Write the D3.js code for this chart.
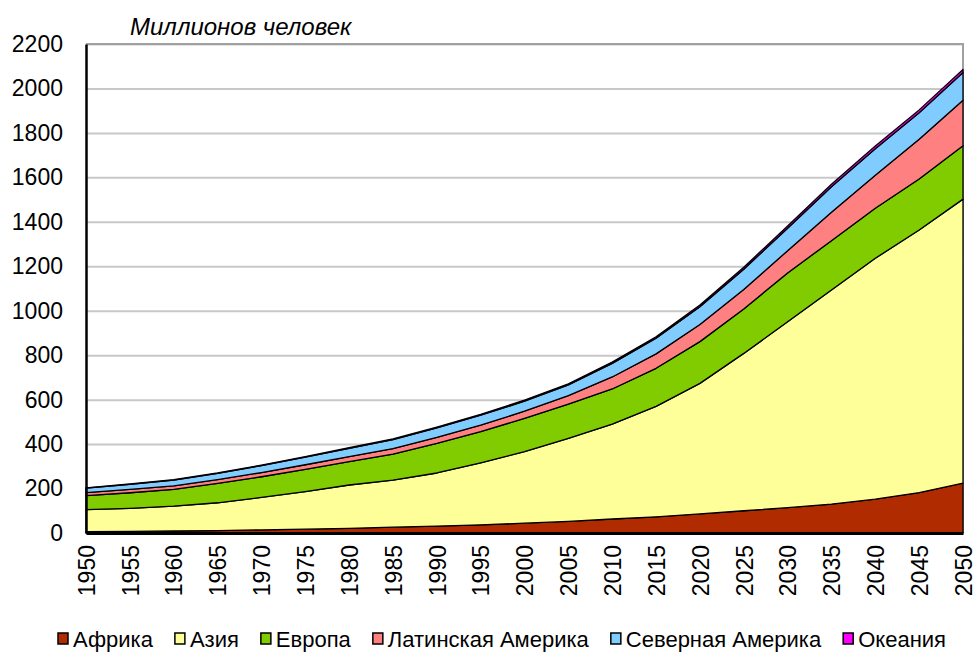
<!DOCTYPE html>
<html>
<head>
<meta charset="utf-8">
<script src="https://cdn.jsdelivr.net/npm/d3@7"></script>
<style>
  body { margin: 0; background: #fff; }
  svg { display: block; font-family: "Liberation Sans", Arial, sans-serif; }
</style>
</head>
<body>
<svg id="chart" width="975" height="653"></svg>
<script>
// years on the category axis
const years = d3.range(1950, 2051, 5);

// millions of people
const africa  = [6, 7, 9, 11, 14, 17, 21, 26, 31, 37, 44, 52, 63, 73, 86, 100, 114, 130, 152, 182, 224];
const asia    = [99, 104, 112, 125, 146, 169, 195, 212, 239, 279, 322, 374, 427, 497, 587, 708, 836, 963, 1084, 1181, 1278];
const europe  = [63, 70, 75, 87, 93, 100, 105, 117, 133, 140, 150, 154, 158, 171, 188, 200, 220, 222, 225, 230, 240];
const latin   = [14, 15, 16, 17, 19, 21, 23, 25, 27, 29, 32, 38, 54, 65, 77, 88, 100, 128, 148, 178, 205];
const northAm = [20, 23, 26, 28, 31, 34, 37, 40, 43, 45, 45, 48, 61, 70, 80, 91, 101, 115, 120, 120, 125];
const oceania = [1.4, 1.6, 1.8, 2.0, 2.3, 2.6, 3.0, 3.4, 3.8, 4.2, 4.6, 5.1, 5.9, 6.8, 7.8, 8.9, 10, 11, 11.9, 12.6, 13.3];

const seriesNames = ['Африка', 'Азия', 'Европа', 'Латинская Америка', 'Северная Америка', 'Океания'];
const seriesValues = [africa, asia, europe, latin, northAm, oceania];
const seriesColors = ['#b02c00', '#ffff99', '#80cc00', '#ff8080', '#80ccff', '#ff00ff'];

const yTicks = d3.range(0, 2201, 200);
const title = 'Миллионов человек';

const svg = d3.select('#chart');
const margin = { left: 86, right: 12, top: 44, bottom: 120 };
const width = 975, height = 653;

const x = d3.scaleLinear().domain([1950, 2050]).range([margin.left, width - margin.right]);
const y = d3.scaleLinear().domain([0, 2200]).range([height - margin.bottom, margin.top]);

// table for the stack
const table = years.map((yr, i) => {
  const row = { year: yr };
  seriesNames.forEach((name, k) => (row[name] = seriesValues[k][i]));
  return row;
});
const stacked = d3.stack().keys(seriesNames)(table);

// grid lines
svg.append('g')
  .attr('transform', `translate(${margin.left},0)`)
  .call(d3.axisLeft(y).tickValues(yTicks.slice(1)).tickSize(-(x.range()[1] - margin.left)).tickFormat(''))
  .call((g) => g.select('.domain').remove())
  .call((g) => g.selectAll('line').attr('stroke', '#c8c8c8').attr('stroke-width', 2));

// right + top frame
svg.append('path')
  .attr('d', `M${margin.left},${y(2200)}H${x(2050)}V${y(0)}`)
  .attr('fill', 'none')
  .attr('stroke', '#a0a0a0')
  .attr('stroke-width', 2);

const area = d3.area()
  .x((d) => x(d.data.year))
  .y0((d) => y(d[0]))
  .y1((d) => y(d[1]));

svg.append('g')
  .selectAll('path')
  .data(stacked)
  .join('path')
  .attr('d', area)
  .attr('fill', (d, i) => seriesColors[i])
  .attr('stroke', '#000')
  .attr('stroke-width', 1.3)
  .attr('stroke-linejoin', 'round');

// y axis
svg.append('g')
  .attr('transform', `translate(${margin.left},0)`)
  .call(d3.axisLeft(y).tickValues(yTicks).tickFormat(d3.format('d')).tickSize(0).tickPadding(23))
  .call((g) => g.select('.domain').attr('stroke', '#000').attr('stroke-width', 2.5))
  .call((g) => g.selectAll('text').attr('font-size', 23).attr('fill', '#000').attr('font-family', '"Liberation Sans", Arial, sans-serif'));

// x axis
svg.append('g')
  .attr('transform', `translate(0,${y(0)})`)
  .call(d3.axisBottom(x).tickValues(years).tickFormat(d3.format('d')).tickSize(0))
  .call((g) => g.select('.domain').attr('stroke', '#000').attr('stroke-width', 3))
  .call((g) => g.selectAll('text')
    .attr('font-size', 23)
    .attr('fill', '#000')
    .attr('font-family', '"Liberation Sans", Arial, sans-serif')
    .attr('text-anchor', 'end')
    .attr('transform', 'rotate(-90)')
    .attr('x', -12)
    .attr('y', 0)
    .attr('dy', '0.36em'));

// title
svg.append('text')
  .attr('x', 130)
  .attr('y', 35)
  .attr('font-size', 24)
  .attr('font-style', 'italic')
  .attr('fill', '#000')
  .text(title);

// legend
const legend = svg.append('g').attr('transform', 'translate(58,647)');
let lx = 0;
seriesNames.forEach((name, i) => {
  const item = legend.append('g').attr('transform', `translate(${lx},0)`);
  item.append('rect')
    .attr('x', 0).attr('y', -14)
    .attr('width', 10).attr('height', 11)
    .attr('fill', seriesColors[i])
    .attr('stroke', '#000').attr('stroke-width', 1.5);
  const t = item.append('text')
    .attr('x', 15)
    .attr('font-size', 22)
    .attr('fill', '#000')
    .text(name);
  lx += 15 + t.node().getComputedTextLength() + 22;
});
</script>
</body>
</html>
